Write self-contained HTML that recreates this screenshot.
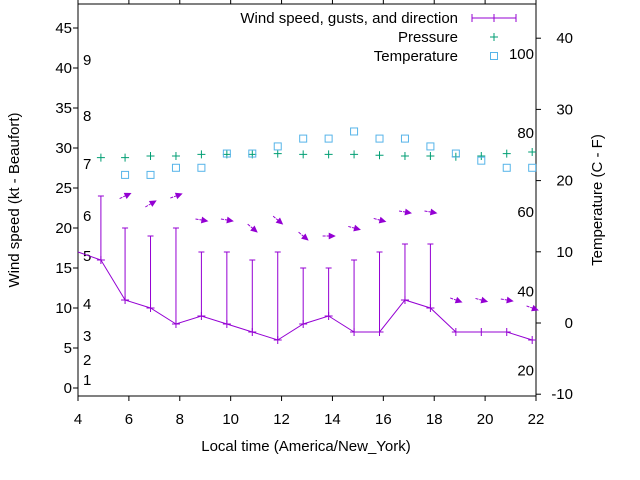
<!DOCTYPE html>
<html><head><meta charset="utf-8"><style>
body{margin:0;background:#fff}
svg{display:block;font-family:"Liberation Sans",sans-serif}
</style></head><body>
<svg id="c" width="640" height="480" viewBox="0 0 640 480">
<g id="frame"></g>
<g id="marks"></g>
<text x="19" y="200" transform="rotate(-90 19 200)" text-anchor="middle" font-size="15">Wind speed (kt - Beaufort)</text>
<text x="602" y="200" transform="rotate(-90 602 200)" text-anchor="middle" font-size="15">Temperature (C - F)</text>
<text x="306" y="451" text-anchor="middle" font-size="15">Local time (America/New_York)</text>
<g font-size="15">
<text x="458" y="23" text-anchor="end">Wind speed, gusts, and direction</text>
<path d="M472 18H516M472 14V22M494 14V22M516 14V22" stroke="#9400d3"/>
<text x="458" y="42" text-anchor="end">Pressure</text>
<path d="M490 37H498M494 33V41" stroke="#009e73"/>
<text x="458" y="61" text-anchor="end">Temperature</text>
<rect x="490.5" y="52.5" width="7" height="7" fill="none" stroke="#56b4e9"/>
</g>
</svg>
<script>
const hours=[4.9,5.85,6.85,7.85,8.85,9.85,10.85,11.85,12.85,13.85,14.85,15.85,16.85,17.85,18.85,19.85,20.85,21.85];
const speed=[16,11,10,8,9,8,7,6,8,9,7,7,11,10,7,7,7,6];
const gusts=[24,20,19,20,17,17,16,17,15,15,16,17,18,18,null,null,null,null];
const windDir=[null,-25,-30,-20,10,10,40,40,40,0,15,15,10,10,20,15,10,20];
const pressure=[28.8,28.8,29,29,29.2,29.2,29.2,29.3,29.2,29.2,29.2,29.1,29,29,28.9,29,29.3,29.5];
const temperature=[null,20.8,20.8,21.8,21.8,23.8,23.8,24.8,25.9,25.9,26.9,25.9,25.9,24.8,23.8,22.8,21.8,21.8];
const startSpeed=17;
const xTicks=[4,6,8,10,12,14,16,18,20,22];
const yTicks=[0,5,10,15,20,25,30,35,40,45];
const y2Ticks=[-10,0,10,20,30,40];
const beaufort=[[1,1],[2,3.5],[3,6.5],[4,10.5],[5,16.5],[6,21.5],[7,28],[8,34],[9,41]];
const fahrenheit=[20,40,60,80,100];
const L=78,R=536,T=4,B=396;
const X=h=>L+(h-4)*(R-L)/18;
const Y=v=>388-v*8;
const Y2=c=>323-c*7.12;
const NS="http://www.w3.org/2000/svg";
const frame=document.getElementById('frame'),marks=document.getElementById('marks');
function mk(p,tag,a,txt){const e=document.createElementNS(NS,tag);for(const k in a)e.setAttribute(k,a[k]);if(txt!==undefined)e.textContent=txt;p.appendChild(e);return e;}
let e=mk(frame,'rect',{x:L,y:T,width:R-L,height:B-T,fill:'none',stroke:'#000'});


xTicks.forEach(t=>{
 const x=X(t);
 let l=mk(frame,'path',{d:`M${x} ${B}V${B+5}M${x} ${T}V${T-5}`,stroke:'#000'});
 
 
 let s=mk(frame,'text',{x:x,y:424,'text-anchor':'middle','font-size':15},t);
 
 
});
yTicks.forEach(t=>{
 const y=Y(t);
 let l=mk(frame,'path',{d:`M${L} ${y}H${L-5}`,stroke:'#000'});
 
 
 let s=mk(frame,'text',{x:L-6,y:y+5,'text-anchor':'end','font-size':15},t);
 
 
});
y2Ticks.forEach(t=>{
 const y=Y2(t);
 let l=mk(frame,'path',{d:`M${R} ${y}H${R+5}`,stroke:'#000'});
 
 
 let s=mk(frame,'text',{x:573,y:y+5,'text-anchor':'end','font-size':15},t);
 
 
});
beaufort.forEach(b=>{
 let s=mk(frame,'text',{x:83,y:Y(b[1])+5,'font-size':15},b[0]);
 
 
});
fahrenheit.forEach(f=>{
 const c=(f-32)*5/9;
 let s=mk(frame,'text',{x:534,y:Y2(c)+5,'text-anchor':'end','font-size':15},f);
 
 
});
hours.forEach((h,i)=>{
 const x=X(h),y=Y(pressure[i]);
 let p=mk(marks,'path',{d:`M${x-4} ${y}H${x+4}M${x} ${y-4}V${y+4}`,stroke:'#009e73'});
 
 
});
hours.forEach((h,i)=>{
 if(temperature[i]==null)return;
 const x=X(h),y=Y2(temperature[i]);
 let r=mk(marks,'rect',{x:x-3.5,y:y-3.5,width:7,height:7,fill:'none',stroke:'#56b4e9'});
 
 
});
let d=`M${X(4)} ${Y(startSpeed)}`+hours.map((h,i)=>`L${X(h)} ${Y(speed[i])}`).join('');
let ln=mk(marks,'path',{d:d,fill:'none',stroke:'#9400d3'});


hours.forEach((h,i)=>{
 const x=X(h),y=Y(speed[i]);
 let p=mk(marks,'path',{d:`M${x-4} ${y}H${x+4}M${x} ${y-4}V${y+4}`,stroke:'#9400d3'});
 
 
 if(gusts[i]!=null){
  const g=Y(gusts[i]);
  let b=mk(marks,'path',{d:`M${x} ${y}V${g}M${x-3} ${g}H${x+3}`,stroke:'#9400d3'});
  
  
 }
 if(windDir[i]!=null){
  const top=Math.max(gusts[i]==null?speed[i]:gusts[i],speed[i])+4;
  const ax=x,ay=Y(top),a=windDir[i]*Math.PI/180,len=12;
  const x1=ax-len/2*Math.cos(a),y1=ay-len/2*Math.sin(a),x2=ax+len/2*Math.cos(a),y2=ay+len/2*Math.sin(a);
  const hx1=x2-6*Math.cos(a-0.45),hy1=y2-6*Math.sin(a-0.45),hx2=x2-6*Math.cos(a+0.45),hy2=y2-6*Math.sin(a+0.45);
  let w=mk(marks,'g',{});
  
  
  mk(w,'path',{d:`M${x1} ${y1}L${x2} ${y2}`,stroke:'#9400d3','stroke-dasharray':'3 1'});
  mk(w,'path',{d:`M${x2} ${y2}L${hx1} ${hy1}L${hx2} ${hy2}Z`,fill:'#9400d3',stroke:'#9400d3'});
 }
});
</script>
</body></html>
